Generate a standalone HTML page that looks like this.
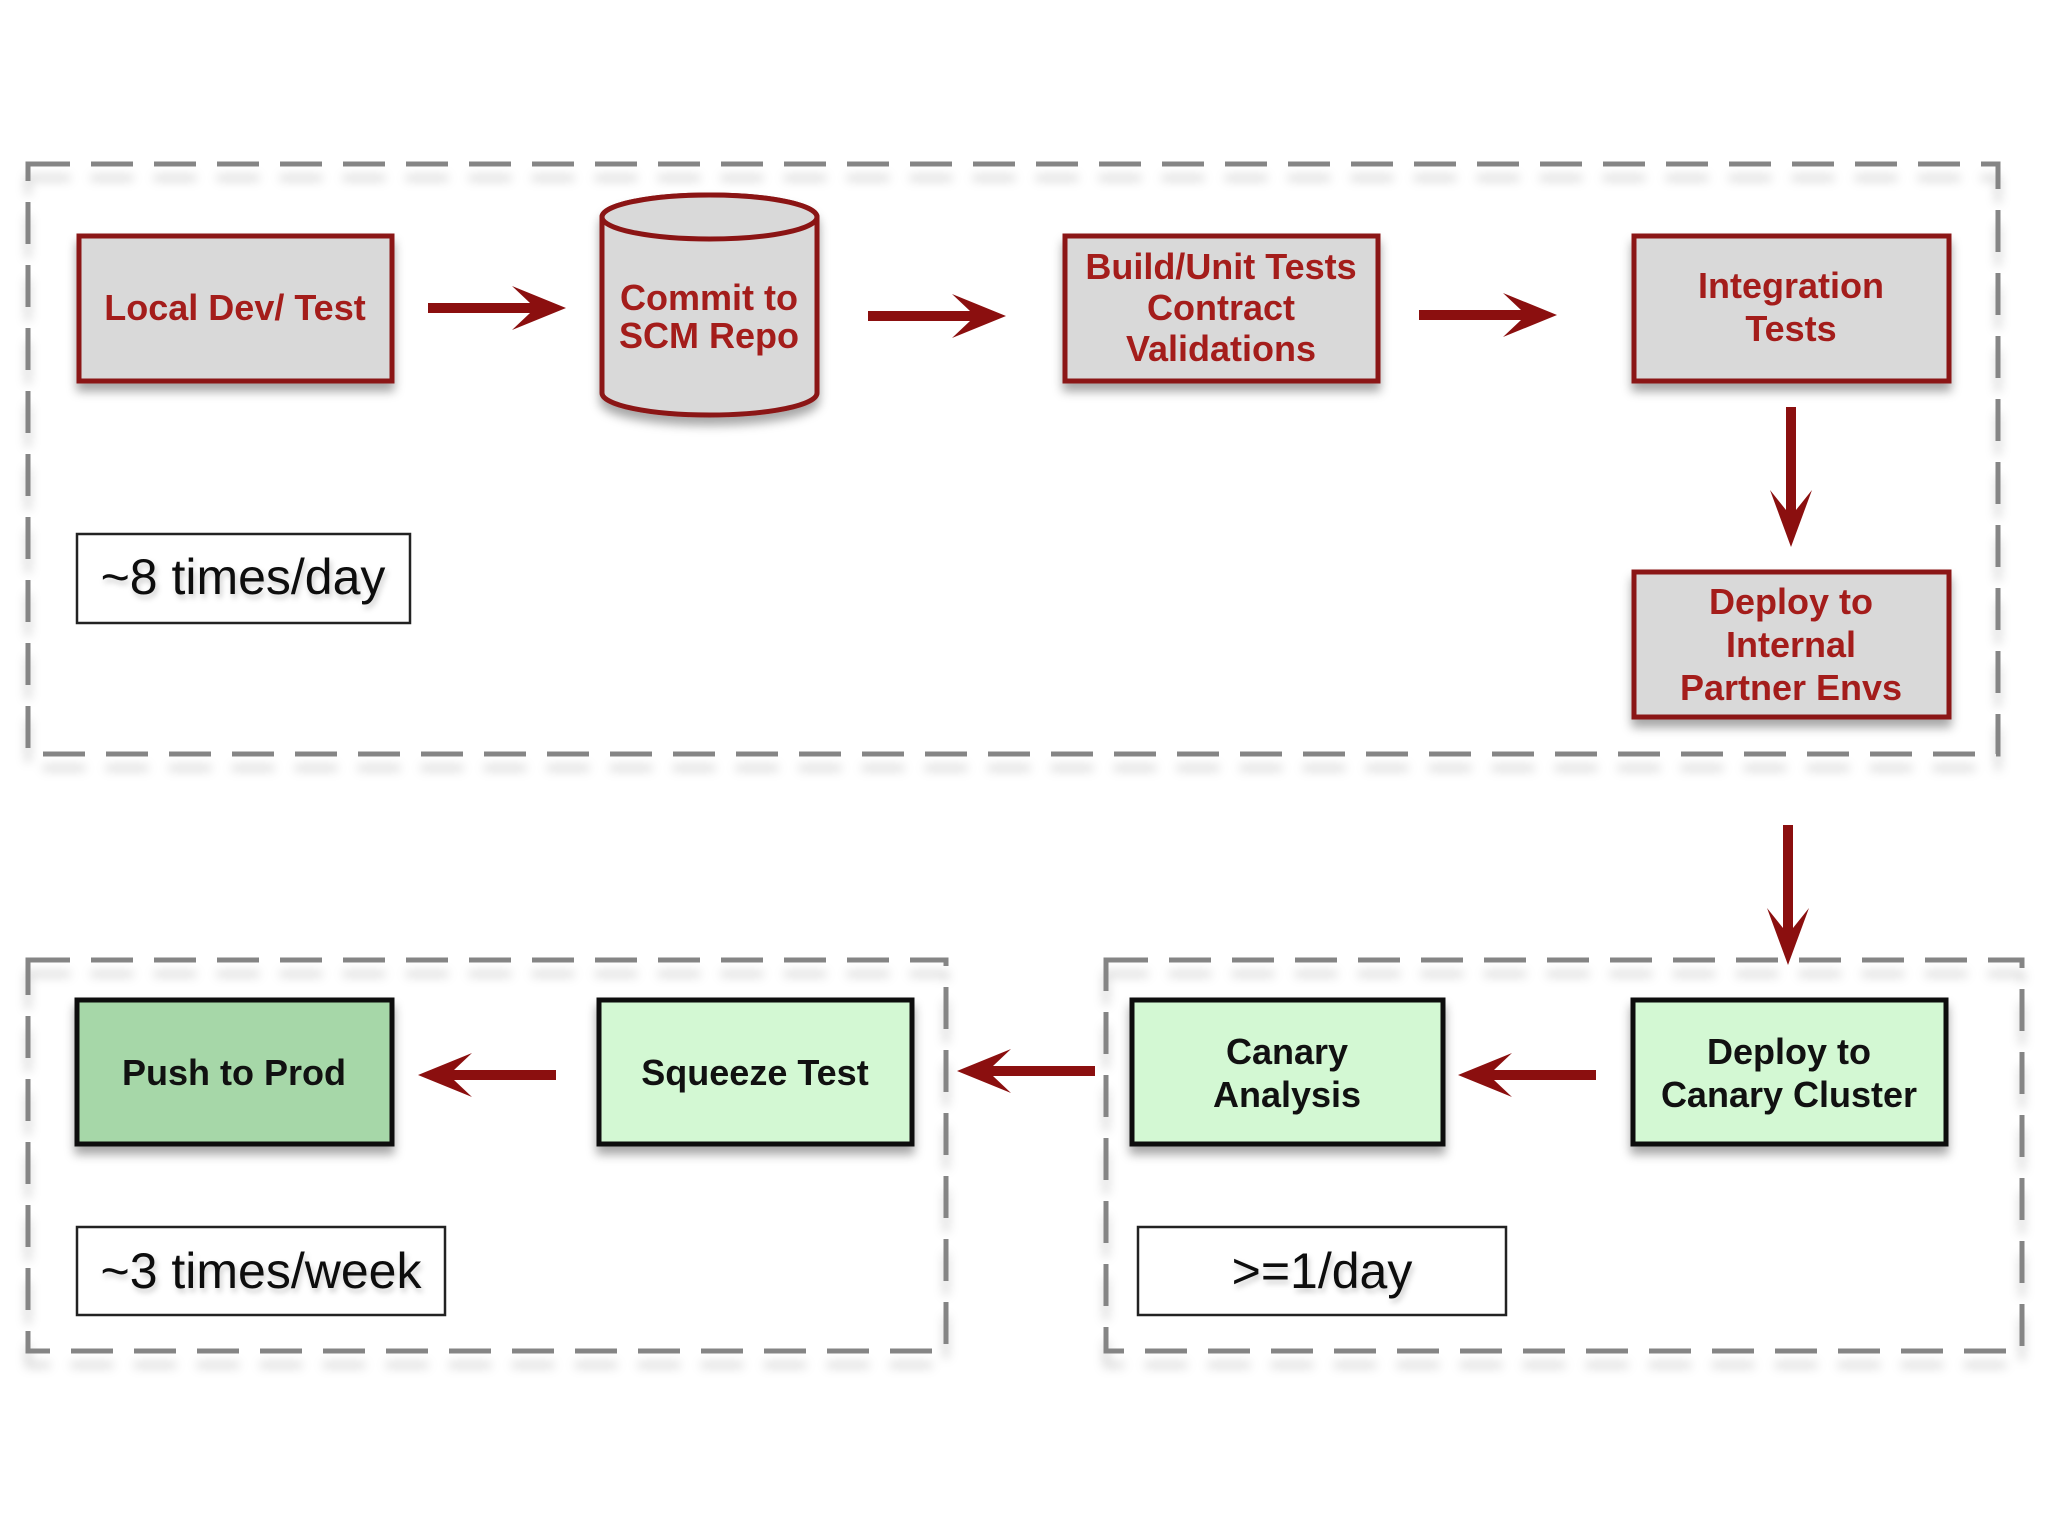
<!DOCTYPE html>
<html><head><meta charset="utf-8"><style>
html,body{margin:0;padding:0;background:#fff;}
svg{display:block;}
text{font-family:"Liberation Sans",Arial,sans-serif;}
.r{fill:#a41d1b;font-weight:bold;font-size:36px;text-anchor:middle;}
.g{fill:#111;font-weight:bold;font-size:36px;text-anchor:middle;}
.l{fill:#111;font-size:50px;text-anchor:middle;}
</style></head><body>
<svg width="2048" height="1536" viewBox="0 0 2048 1536" xmlns="http://www.w3.org/2000/svg">
<defs>
<filter id="sh" x="-10%" y="-10%" width="130%" height="140%">
<feDropShadow dx="0" dy="8" stdDeviation="5" flood-color="#000" flood-opacity="0.35"/>
</filter>
<filter id="dsh" x="-5%" y="-5%" width="110%" height="115%">
<feDropShadow dx="0" dy="14" stdDeviation="5" flood-color="#000" flood-opacity="0.18"/>
</filter>
<filter id="lsh" x="-10%" y="-10%" width="130%" height="140%">
<feDropShadow dx="2" dy="4" stdDeviation="3" flood-color="#000" flood-opacity="0.2"/>
</filter>
</defs>
<rect width="2048" height="1536" fill="#fff"/>

<!-- dashed groups -->
<g fill="none" stroke="#858585" stroke-width="5" stroke-dasharray="42 21" filter="url(#dsh)">
<rect x="28" y="164" width="1970" height="590"/>
<rect x="28" y="960" width="918" height="391"/>
<rect x="1106" y="960" width="916" height="391"/>
</g>

<!-- top red boxes -->
<g fill="#d9d9d9" stroke="#8b1414" stroke-width="5" filter="url(#sh)">
<rect x="79" y="236" width="313" height="145"/>
<rect x="1065" y="236" width="313" height="145"/>
<rect x="1634" y="236" width="315" height="145"/>
<rect x="1634" y="572" width="315" height="145"/>
<path d="M602 217 L602 393 A107.5 22 0 0 0 817 393 L817 217 A107.5 22 0 0 0 602 217 Z"/>
</g>
<ellipse cx="709.5" cy="217" rx="107.5" ry="22" fill="#d9d9d9" stroke="#8b1414" stroke-width="5"/>

<text class="r" x="235" y="320">Local Dev/ Test</text>
<text class="r" x="709" y="310">Commit to</text>
<text class="r" x="709" y="348">SCM Repo</text>
<text class="r" x="1221" y="279">Build/Unit Tests</text>
<text class="r" x="1221" y="320">Contract</text>
<text class="r" x="1221" y="361">Validations</text>
<text class="r" x="1791" y="298">Integration</text>
<text class="r" x="1791" y="341">Tests</text>
<text class="r" x="1791" y="614">Deploy to</text>
<text class="r" x="1791" y="657">Internal</text>
<text class="r" x="1791" y="700">Partner Envs</text>

<!-- green boxes -->
<g stroke="#111" stroke-width="5" filter="url(#sh)">
<rect x="77" y="1000" width="315" height="144" fill="#a6d7a8"/>
<rect x="599" y="1000" width="313" height="144" fill="#d3f8d3"/>
<rect x="1132" y="1000" width="311" height="144" fill="#d3f8d3"/>
<rect x="1633" y="1000" width="313" height="144" fill="#d3f8d3"/>
</g>
<text class="g" x="234" y="1085">Push to Prod</text>
<text class="g" x="755" y="1085">Squeeze Test</text>
<text class="g" x="1287" y="1064">Canary</text>
<text class="g" x="1287" y="1107">Analysis</text>
<text class="g" x="1789" y="1064">Deploy to</text>
<text class="g" x="1789" y="1107">Canary Cluster</text>

<!-- labels -->
<g fill="#fff" stroke="#222" stroke-width="2.5">
<rect x="77" y="534" width="333" height="89"/>
<rect x="77" y="1227" width="368" height="88"/>
<rect x="1138" y="1227" width="368" height="88"/>
</g>
<g filter="url(#lsh)">
<text class="l" x="243" y="594">~8 times/day</text>
<text class="l" x="261" y="1288">~3 times/week</text>
<text class="l" x="1322" y="1288">&gt;=1/day</text>
</g>

<!-- arrows -->
<g fill="#8b0f0f">
<!-- right arrows -->
<path d="M428 303 L530 303 L512 286 L566 308 L512 330 L530 313 L428 313 Z"/>
<path d="M868 311 L970 311 L952 294 L1006 316 L952 338 L970 321 L868 321 Z"/>
<path d="M1419 310 L1521 310 L1503 293 L1557 315 L1503 337 L1521 320 L1419 320 Z"/>
<!-- down arrows -->
<path d="M1786 407 L1796 407 L1796 510 L1812 490 L1791 547 L1770 490 L1786 510 Z"/>
<path d="M1783 825 L1793 825 L1793 928 L1809 908 L1788 965 L1767 908 L1783 928 Z"/>
<!-- left arrows -->
<path d="M556 1070 L454 1070 L472 1053 L418 1075 L472 1097 L454 1080 L556 1080 Z"/>
<path d="M1095 1066 L993 1066 L1011 1049 L957 1071 L1011 1093 L993 1076 L1095 1076 Z"/>
<path d="M1596 1070 L1494 1070 L1512 1053 L1458 1075 L1512 1097 L1494 1080 L1596 1080 Z"/>
</g>
</svg>
</body></html>
